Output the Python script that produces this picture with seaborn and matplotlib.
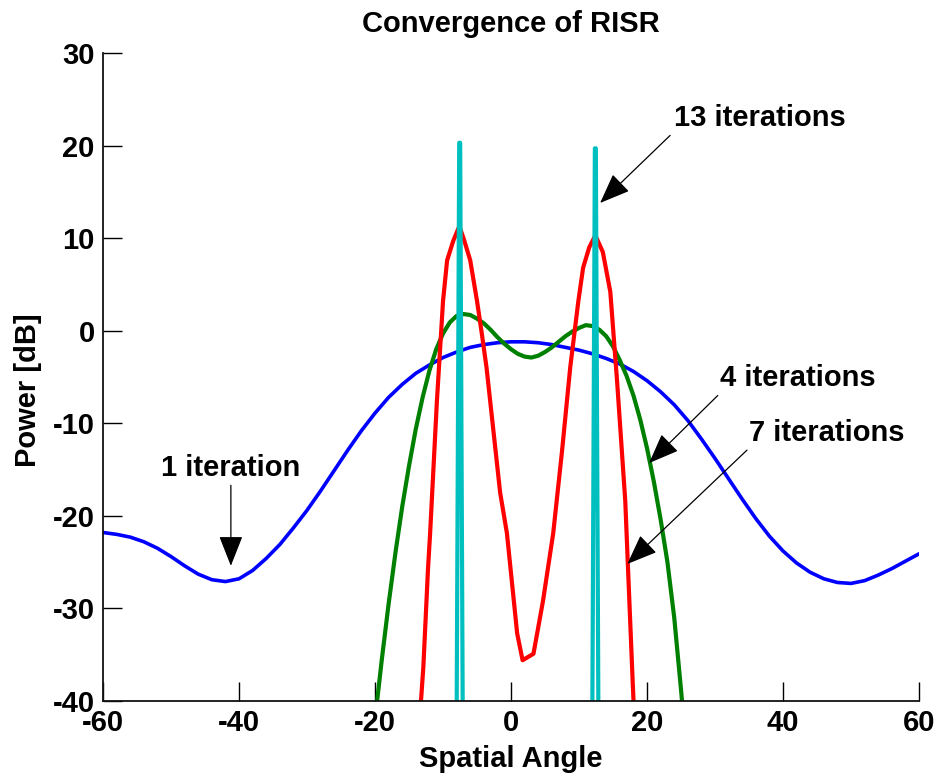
import numpy as np
import pandas as pd
import matplotlib
matplotlib.use("Agg")
import matplotlib.pyplot as plt
import seaborn as sns

# Spatial spectrum estimates of RISR after successive iterations
angle_1 = [-60, -58, -56, -54, -52, -50, -48, -46, -44, -42, -40, -38, -36, -34,
           -32, -30, -28, -26, -24, -22, -20, -18, -16, -14, -12, -10, -8, -6,
           -4, -2, 0, 2, 4, 6, 8, 10, 12, 14, 16, 18, 20, 22, 24, 26, 28, 30,
           32, 34, 36, 38, 40, 42, 44, 46, 48, 50, 52, 54, 56, 58, 60]
power_1 = [-21.8, -22.0, -22.3, -22.8, -23.5, -24.4, -25.4, -26.3, -26.9, -27.1,
           -26.8, -25.9, -24.6, -23.1, -21.3, -19.4, -17.3, -15.1, -12.9, -10.8,
           -8.9, -7.2, -5.8, -4.6, -3.7, -2.9, -2.3, -1.8, -1.5, -1.3, -1.2,
           -1.2, -1.3, -1.5, -1.8, -2.1, -2.5, -3.0, -3.6, -4.4, -5.4, -6.6,
           -8.0, -9.7, -11.7, -13.8, -16.0, -18.2, -20.3, -22.2, -23.8, -25.1,
           -26.1, -26.8, -27.2, -27.3, -27.0, -26.4, -25.7, -24.9, -24.1]

angle_4 = [-20.0, -19, -18, -17, -16, -15, -14, -13, -12, -11, -10, -9, -8, -7,
           -6, -5, -4, -3, -2, -1, 0, 1, 2, 3, 4, 5, 6, 7, 8, 9, 10, 11, 12, 13,
           14, 15, 16, 17, 18, 19, 20, 21, 22, 23, 24, 25, 25.5]
power_4 = [-42.0, -35.5, -29.5, -24.0, -19.0, -14.6, -10.6, -7.2, -4.3, -2.0,
           -0.3, 0.9, 1.6, 1.8, 1.7, 1.3, 0.8, 0.1, -0.7, -1.4, -2.0, -2.5,
           -2.8, -2.9, -2.7, -2.3, -1.8, -1.2, -0.6, -0.1, 0.3, 0.6, 0.5, 0.1,
           -0.6, -1.7, -3.2, -4.9, -7.0, -9.6, -12.7, -16.3, -20.4, -25.0,
           -31.0, -38.8, -43.0]

angle_7 = [-14.0, -12.9, -12.2, -11.9, -10.9, -10.0, -9.4, -8.5, -7.6, -6.9,
           -6.0, -5.0, -4.3, -3.6, -1.6, -0.6, 0.9, 1.7, 3.3, 4.7, 6.2, 7.5,
           8.7, 9.9, 10.6, 11.5, 12.4, 13.5, 14.6, 15.6, 16.8, 17.2, 17.9, 18.5]
power_7 = [-48.0, -36.4, -25.6, -21.9, -7.6, 3.2, 7.6, 9.7, 11.3, 9.8, 7.6,
           3.2, -0.3, -4.0, -17.5, -21.9, -32.7, -35.6, -34.9, -29.2, -21.9,
           -13.0, -4.0, 3.2, 6.8, 9.0, 10.3, 8.5, 4.2, -5.5, -18.4, -25.6,
           -38.1, -48.0]

angle_13 = [-60, -8.11, -7.62, -7.48, -6.99, 11.84, 12.33, 12.47, 12.96, 60]
power_13 = [-60, -60, 20.3, 20.3, -60, -60, 19.7, 19.7, -60, -60]

x_ticks = [-60, -40, -20, 0, 20, 40, 60]
y_ticks = [-40, -30, -20, -10, 0, 10, 20, 30]

series = [
    (angle_1, power_1, "#0000FF", 2.6),
    (angle_4, power_4, "#008000", 3.0),
    (angle_7, power_7, "#FF0000", 3.0),
    (angle_13, power_13, "#00BFBF", 3.0),
]

sns.set_style("ticks")
plt.rcParams["font.family"] = ["Liberation Sans", "DejaVu Sans"]
plt.rcParams["font.weight"] = "bold"
plt.rcParams["axes.unicode_minus"] = False
for key in ("text.color", "axes.labelcolor", "xtick.color", "ytick.color"):
    plt.rcParams[key] = "black"

fig = plt.figure(figsize=(9.4, 7.84), dpi=100)
ax = fig.add_axes([0.1096, 0.1059, 0.8681, 0.8265])

for ang, pw, col, lw in series:
    df = pd.DataFrame({"angle": ang, "power": pw})
    sns.lineplot(data=df, x="angle", y="power", ax=ax, color=col,
                 linewidth=lw, estimator=None, sort=False)

ax.set_xlim(-60, 60)
ax.set_ylim(-40, 30)
ax.set_xticks(x_ticks)
ax.set_yticks(y_ticks)
ax.tick_params(direction="in", length=14, width=1.0, color="black",
               labelcolor="black", labelsize=21, pad=6)
for lab in ax.get_xticklabels() + ax.get_yticklabels():
    lab.set_fontweight("bold")

for side in ("top", "right"):
    ax.spines[side].set_visible(False)
for side in ("left", "bottom"):
    ax.spines[side].set_color("#111111")
    ax.spines[side].set_linewidth(1.3)

ax.set_title("Convergence of RISR", fontsize=21, fontweight="bold", pad=15,
             color="black")
ax.set_xlabel("Spatial Angle", fontsize=21, fontweight="bold", color="black")
ax.set_ylabel("Power [dB]", fontsize=21, fontweight="bold", color="black")
ax.xaxis.set_label_coords(0.5, -0.068)
ax.yaxis.set_label_coords(-0.075, 0.48)

# Iteration callouts
callouts = [
    ("1 iteration", (-41.3, -14.8), (-41.2, -16.7), (-41.2, -25.4)),
    ("13 iterations", (36.6, 23.0), (23.4, 21.1), (13.1, 13.8)),
    ("4 iterations", (42.2, -5.1), (30.4, -7.0), (20.3, -14.3)),
    ("7 iterations", (46.5, -11.0), (34.7, -12.9), (17.1, -25.2)),
]
for label, txt_pos, tail, tip in callouts:
    ax.text(txt_pos[0], txt_pos[1], label, fontsize=21, fontweight="bold",
            ha="center", va="center", color="black")
    ax.annotate("", xy=tip, xytext=tail,
                arrowprops=dict(arrowstyle="-|>,head_length=1.9,head_width=0.75",
                                color="black", lw=0.9, mutation_scale=10,
                                shrinkA=0, shrinkB=0))

fig.savefig("out.png", dpi=100)
